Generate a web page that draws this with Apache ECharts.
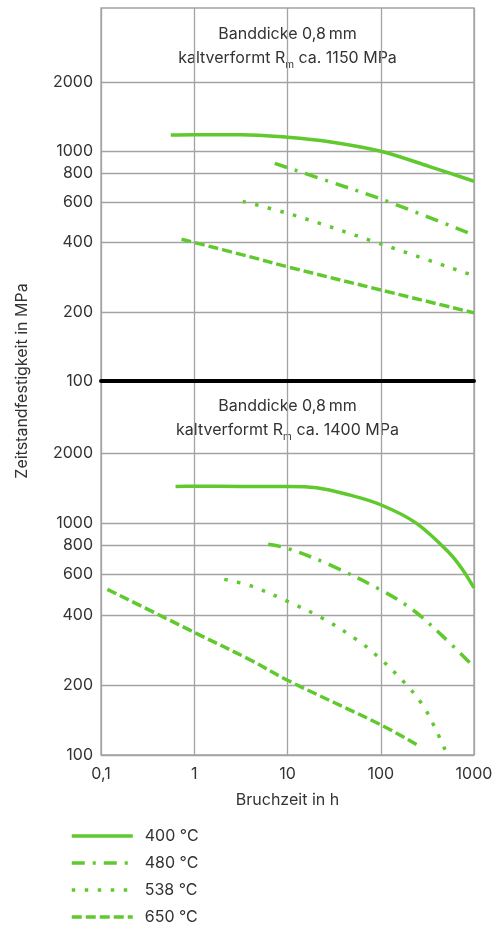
<!DOCTYPE html>
<html><head><meta charset="utf-8">
<script src="https://cdn.jsdelivr.net/npm/echarts@6/dist/echarts.min.js"></script>
<style>html,body{margin:0;padding:0;background:#fff}#c{width:500px;height:929px}</style>
</head><body><div id="c"></div>
<script>
// ---- data ----
const seriesNames = ['400 °C', '480 °C', '538 °C', '650 °C'];
const yTickValues = [100, 200, 400, 600, 800, 1000, 2000];
const xTickLabels = ['0,1', '1', '10', '100', '1000'];
// top panel: Banddicke 0,8 mm, kaltverformt Rm ca. 1150 MPa  -> [Bruchzeit h, MPa]
const top400 = [[0.56, 1175], [1, 1180], [3.2, 1180], [10, 1150], [28, 1100], [100, 1000], [340, 855], [1000, 740]];
const top480 = [[7.3, 885], [28, 738], [100, 620], [1000, 432]];
const top538 = [[3.3, 605], [11.5, 528], [100, 395], [1000, 287]];
const top650 = [[0.73, 414], [4, 347], [10, 314], [100, 249], [1000, 198]];
// bottom panel: Banddicke 0,8 mm, kaltverformt Rm ca. 1400 MPa
const bot400 = [[0.63, 1440], [1, 1442], [3.2, 1440], [10, 1440], [20.5, 1422], [47, 1320], [100, 1200], [240, 1000], [550, 740], [765, 625], [1000, 525]];
const bot480 = [[6.2, 810], [10, 778], [28.5, 660], [100, 515], [222, 422], [467, 324], [1000, 240]];
const bot538 = [[2.1, 572], [4, 537], [10, 460], [24, 388], [56, 313], [94, 265], [186, 202], [285, 163], [389, 129], [507, 102]];
const bot650 = [[0.117, 518], [1, 338], [4, 257], [10, 210], [100, 135], [242, 111]];

// ---- styling ----
const GREEN = '#5fc92e';
const GRID = '#a3a3a3';
const TXT = '#333333';
const FONT = 'Inter, "Noto Sans", sans-serif';
const dashTypes = {
  '400 °C': 'solid',
  '480 °C': [13, 8, 3, 8],
  '538 °C': [3.5, 9.5],
  '650 °C': [10, 4]
};
const lg = v => Math.log10(v);
const toLog = arr => arr.map(p => [lg(p[0]), lg(p[1])]);

function mkSeries(name, data, idx) {
  return {
    name: name, type: 'line', xAxisIndex: idx, yAxisIndex: idx,
    data: toLog(data), smooth: 0.35, symbol: 'none', silent: true,
    lineStyle: { color: GREEN, width: 3.5, type: dashTypes[name], cap: 'butt' },
    itemStyle: { color: GREEN }
  };
}

const yMaxTop = lg(4200), yMaxBot = lg(4100);
function mkY(idx, max) {
  return {
    type: 'value', gridIndex: idx, min: 2, max: max,
    axisLine: { show: false },
    axisTick: { show: false, customValues: yTickValues.map(lg) },
    axisLabel: {
      customValues: yTickValues.map(lg), margin: 8,
      formatter: v => String(Math.round(Math.pow(10, v))),
      color: TXT, fontSize: 16, fontFamily: FONT
    },
    splitLine: { show: true, lineStyle: { color: GRID, width: 1.3 } }
  };
}
function xLabel(v) {
  const i = Math.round(v) + 1;
  return xTickLabels[i] !== undefined ? xTickLabels[i] : '';
}

const option = {
  animation: false,
  backgroundColor: '#fff',
  grid: [
    { left: 101, top: 8, width: 373, height: 373, show: true, borderColor: GRID, borderWidth: 1.3, containLabel: false },
    { left: 101, top: 381, width: 373, height: 374, show: true, borderColor: GRID, borderWidth: 1.3, containLabel: false }
  ],
  xAxis: [
    { type: 'value', gridIndex: 0, min: -1, max: 3, interval: 1,
      axisLine: { show: true, onZero: false, lineStyle: { color: '#000', width: 4 } },
      axisTick: { show: false }, axisLabel: { show: false },
      splitLine: { show: true, lineStyle: { color: GRID, width: 1.3 } } },
    { type: 'value', gridIndex: 1, min: -1, max: 3, interval: 1,
      axisLine: { show: false }, axisTick: { show: false },
      axisLabel: { formatter: xLabel, color: TXT, fontSize: 16, fontFamily: FONT, margin: 11 },
      splitLine: { show: true, lineStyle: { color: GRID, width: 1.3 } },
      name: 'Bruchzeit in h', nameLocation: 'middle', nameGap: 37,
      nameTextStyle: { color: TXT, fontSize: 16, fontFamily: FONT } }
  ],
  yAxis: [mkY(0, yMaxTop), mkY(1, yMaxBot)],
  legend: {
    orient: 'vertical', left: 70, top: 827, padding: 0,
    itemWidth: 61, itemHeight: 12, itemGap: 9,
    data: seriesNames,
    itemStyle: { opacity: 0 },
    lineStyle: { width: 3.5 },
    textStyle: { color: TXT, fontSize: 16, lineHeight: 18, fontFamily: FONT, padding: [0, 0, 0, 7] }
  },
  graphic: [
    { type: 'text', x: 22, y: 381, rotation: Math.PI / 2,
      style: { text: 'Zeitstandfestigkeit in MPa', textAlign: 'center', textVerticalAlign: 'middle',
        fill: TXT, fontSize: 16, fontFamily: FONT } },
    { type: 'text', x: 287.5, y: 34,
      style: { text: 'Banddicke 0,8\u2009mm', textAlign: 'center', textVerticalAlign: 'middle',
        fill: TXT, fontSize: 16, fontFamily: FONT } },
    { type: 'text', x: 287.5, y: 58,
      style: { text: '{a|kaltverformt R}{s|m}{a| ca. 1150 MPa}', textAlign: 'center', textVerticalAlign: 'middle',
        fill: TXT, fontSize: 16, fontFamily: FONT,
        rich: { a: { fontSize: 16, fontFamily: FONT, fill: TXT, lineHeight: 20 },
                s: { fontSize: 10, fontFamily: FONT, fill: TXT, padding: [14, 0, 0, 0], lineHeight: 20 } } } },
    { type: 'text', x: 287.5, y: 406,
      style: { text: 'Banddicke 0,8\u2009mm', textAlign: 'center', textVerticalAlign: 'middle',
        fill: TXT, fontSize: 16, fontFamily: FONT } },
    { type: 'text', x: 287.5, y: 430,
      style: { text: '{a|kaltverformt R}{s|m}{a| ca. 1400 MPa}', textAlign: 'center', textVerticalAlign: 'middle',
        fill: TXT, fontSize: 16, fontFamily: FONT,
        rich: { a: { fontSize: 16, fontFamily: FONT, fill: TXT, lineHeight: 20 },
                s: { fontSize: 10, fontFamily: FONT, fill: TXT, padding: [14, 0, 0, 0], lineHeight: 20 } } } }
  ],
  series: [
    mkSeries('400 °C', top400, 0), mkSeries('480 °C', top480, 0),
    mkSeries('538 °C', top538, 0), mkSeries('650 °C', top650, 0),
    mkSeries('400 °C', bot400, 1), mkSeries('480 °C', bot480, 1),
    mkSeries('538 °C', bot538, 1), mkSeries('650 °C', bot650, 1)
  ]
};
const chart = echarts.init(document.getElementById('c'), null, { renderer: 'canvas' });
chart.setOption(option);
</script>
</body></html>
